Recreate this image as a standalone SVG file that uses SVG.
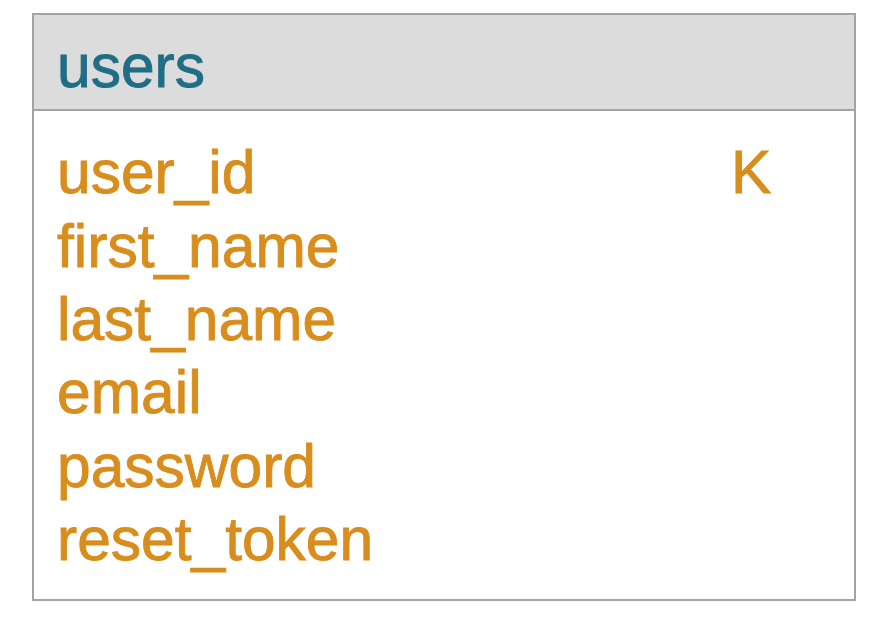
<svg xmlns="http://www.w3.org/2000/svg" width="885" height="619" viewBox="0 0 885 619">
<style>
.t{font-family:"Liberation Sans",Arial,Helvetica,sans-serif;font-size:60.5px;stroke-width:0.9px}
.h{fill:#1f6e86;stroke:#1f6e86}
.f{fill:#d88d1c;stroke:#d88d1c}
</style>
<rect width="885" height="619" fill="#ffffff"/>
<g id="users">
<rect x="33" y="14" width="822" height="586" fill="#ffffff" stroke="#a3a3a3" stroke-width="2"/>
<rect x="33" y="14" width="822" height="96" fill="#dcdcdc" stroke="#a3a3a3" stroke-width="2"/>
<text class="t h" x="57" y="87">users</text>
<text class="t f" x="57" y="193">user_id</text>
<text class="t f" x="731" y="193">K</text>
<text class="t f" x="57" y="266.5">first_name</text>
<text class="t f" x="57" y="340">last_name</text>
<text class="t f" x="57" y="413">email</text>
<text class="t f" x="57" y="486.5">password</text>
<text class="t f" x="57" y="560">reset_token</text>
</g>
<g id="connectors"></g>
</svg>
